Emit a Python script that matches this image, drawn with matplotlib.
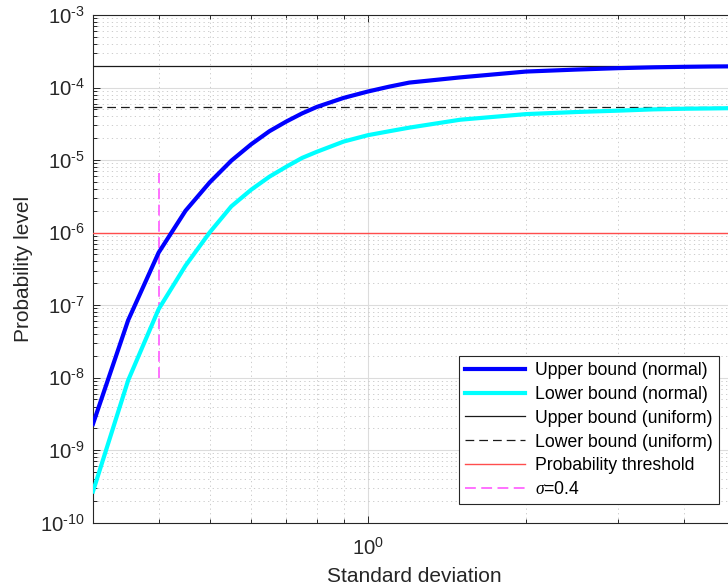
import numpy as np
import matplotlib
matplotlib.use("Agg")
import matplotlib.pyplot as plt
from matplotlib.ticker import LogLocator, FixedLocator, FuncFormatter, NullFormatter

plt.rcParams['font.family'] = ['Liberation Sans', 'DejaVu Sans']
plt.rcParams['mathtext.fontset'] = 'custom'
plt.rcParams['mathtext.rm'] = 'Liberation Sans'
plt.rcParams['mathtext.it'] = 'Liberation Serif:italic'
plt.rcParams['axes.unicode_minus'] = False

# ---- data ----
sigma = [0.30, 0.35, 0.40, 0.45, 0.50, 0.55, 0.60, 0.65, 0.70, 0.75, 0.80, 0.90,
         1.00, 1.10, 1.20, 1.50, 2.00, 2.50, 3.00, 3.50, 4.00, 4.50, 5.00]
upper_normal = [2.3e-9, 6.2e-8, 5.3e-7, 2.0e-6, 4.9e-6, 9.8e-6, 1.65e-5, 2.5e-5, 3.4e-5,
                4.4e-5, 5.4e-5, 7.2e-5, 8.8e-5, 1.03e-4, 1.17e-4, 1.38e-4, 1.66e-4,
                1.77e-4, 1.85e-4, 1.90e-4, 1.93e-4, 1.95e-4, 1.96e-4]
lower_normal = [2.7e-10, 9.2e-9, 8.8e-8, 3.5e-7, 1.0e-6, 2.3e-6, 3.9e-6, 5.9e-6, 8.1e-6,
                1.07e-5, 1.3e-5, 1.8e-5, 2.2e-5, 2.5e-5, 2.8e-5, 3.6e-5, 4.3e-5,
                4.6e-5, 4.8e-5, 5.0e-5, 5.1e-5, 5.15e-5, 5.2e-5]
upper_uniform = 2.0e-4
lower_uniform = 5.35e-5
threshold = 1e-6
sigma_mark = 0.4
sigma_mark_span = [1e-8, 6.6e-6]

labels = ['Upper bound (normal)', 'Lower bound (normal)', 'Upper bound (uniform)',
          'Lower bound (uniform)', 'Probability threshold', r'$\sigma$=0.4']
xlim = (0.3, 5)
ylim = (1e-10, 1e-3)

W, H = 728, 588
fig = plt.figure(figsize=(W / 100, H / 100), dpi=100)
ax = fig.add_axes([93 / W, 1 - 522.7 / H, 642 / W, (522.7 - 15) / H])
ax.set_xscale('log')
ax.set_yscale('log')
ax.set_xlim(*xlim)
ax.set_ylim(*ylim)

ax.plot(sigma, upper_normal, color=(0, 0, 1), lw=3, label=labels[0], zorder=5)
ax.plot(sigma, lower_normal, color=(0, 1, 1), lw=3, label=labels[1], zorder=5)
ax.axhline(upper_uniform, color='#1a1a1a', lw=0.9, label=labels[2], zorder=4)
ax.axhline(lower_uniform, color='#1a1a1a', lw=0.9, linestyle=(0, (7, 4)), label=labels[3], zorder=4)
ax.axhline(threshold, color='#ff4d4d', lw=1.0, label=labels[4], zorder=4)
ax.plot([sigma_mark, sigma_mark], sigma_mark_span, color='#ff66ff', lw=1.3,
        linestyle=(0, (6, 3)), label=labels[5], zorder=4)

# ticks
ax.xaxis.set_major_locator(FixedLocator([1.0]))
ax.xaxis.set_minor_locator(FixedLocator([0.3, 0.4, 0.5, 0.6, 0.7, 0.8, 0.9, 2, 3, 4, 5]))
ax.yaxis.set_major_locator(LogLocator(base=10, numticks=20))
ax.yaxis.set_minor_locator(LogLocator(base=10, subs=np.arange(2, 10), numticks=20))

def fmt(v, pos):
    n = int(round(np.log10(v)))
    s = str(abs(n))
    if n < 0:
        s = '\u2010' + s
    return r'$10^{%s}$' % s

ax.xaxis.set_major_formatter(FuncFormatter(fmt))
ax.yaxis.set_major_formatter(FuncFormatter(fmt))
ax.xaxis.set_minor_formatter(NullFormatter())
ax.yaxis.set_minor_formatter(NullFormatter())

tc = '#262626'
ax.tick_params(which='both', direction='in', top=True, right=True, colors=tc,
               labelsize=14.6, width=0.7)
ax.tick_params(which='major', length=5)
ax.tick_params(which='minor', length=3)
ax.tick_params(axis='y', which='major', pad=6)
ax.tick_params(axis='x', which='major', pad=11)
for sp in ax.spines.values():
    sp.set_color(tc)
    sp.set_linewidth(0.8)

ax.set_axisbelow(True)
ax.grid(True, which='major', color='#dcdcdc', lw=0.8, linestyle='-')
ax.grid(True, which='minor', color='#c4c4c4', lw=0.6, linestyle=(0, (1.5, 4)))

ax.set_xlabel('Standard deviation', fontsize=15, color=tc)
ax.set_ylabel('Probability level', fontsize=15, color=tc)
ax.xaxis.set_label_coords(0.5, (522.7 - 567) / 507.7)
ax.yaxis.set_label_coords((33 - 93) / 642, 0.5)

leg = ax.legend(loc='upper left', bbox_to_anchor=(459 / W, 1 - 355.7 / H),
                bbox_transform=fig.transFigure, borderaxespad=0, fontsize=12.7,
                fancybox=False, framealpha=1, edgecolor='#262626',
                handlelength=3.4, handletextpad=0.55, labelspacing=0.39, borderpad=0.35)
leg.get_frame().set_linewidth(0.8)

fig.savefig('out.png', dpi=100)
